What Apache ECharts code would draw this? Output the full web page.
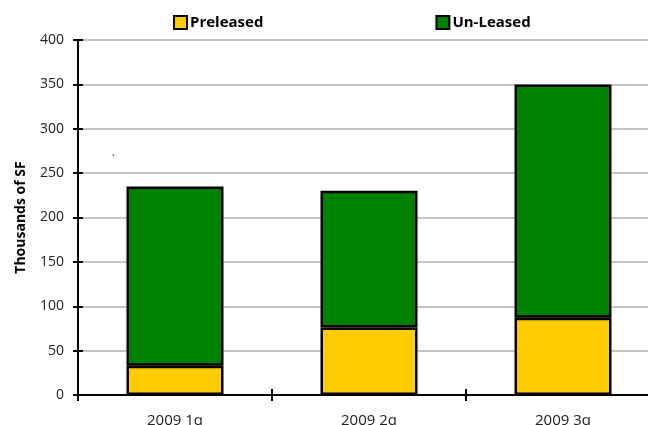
<!DOCTYPE html>
<html>
<head>
<meta charset="utf-8">
<script src="https://cdn.jsdelivr.net/npm/echarts@6/dist/echarts.min.js"></script>
<style>
  html, body { margin: 0; padding: 0; background: #fff; overflow: hidden; }
  #chart { width: 648px; height: 425px; }
</style>
</head>
<body>
<div id="chart"></div>
<script>
// Quarterly space, thousands of square feet
var quarters = ['2009 1q', '2009 2q', '2009 3q'];
var preleased = [33, 76, 87];
var unLeased = [202, 154, 263];
var yTicks = [0, 50, 100, 150, 200, 250, 300, 350, 400];

var FONT = '"Open Sans", "DejaVu Sans", sans-serif';
var chart = echarts.init(document.getElementById('chart'), null, { renderer: 'canvas' });

var yMax = yTicks[yTicks.length - 1];
var yStep = yTicks[1] - yTicks[0];

chart.setOption({
  animation: false,
  backgroundColor: '#ffffff',
  // plot area runs past the right edge of the canvas
  grid: { left: 78, width: 582, top: 40, bottom: 30, containLabel: false, outerBoundsMode: 'none' },
  legend: {
    left: 168,
    top: 10,
    itemGap: 172,
    itemWidth: 13,
    itemHeight: 13,
    icon: 'rect',
    itemStyle: { borderColor: '#000', borderWidth: 2 },
    textStyle: { fontFamily: FONT, fontWeight: 'bold', fontSize: 15, color: '#000', padding: [0, 0, 0, -2] },
    data: ['Preleased', 'Un-Leased']
  },
  xAxis: [{
    type: 'category',
    data: quarters,
    axisLine: { lineStyle: { color: '#000', width: 2 } },
    axisTick: { show: true, length: 6, lineStyle: { color: '#000', width: 2 } },
    axisLabel: { fontFamily: FONT, fontSize: 15, color: '#222', margin: 18 },
    splitLine: { show: false }
  }, {
    type: 'category',
    data: quarters,
    position: 'bottom',
    axisLine: { show: false },
    axisTick: { show: true, inside: true, length: 6, lineStyle: { color: '#000', width: 2 } },
    axisLabel: { show: false },
    splitLine: { show: false }
  }],
  yAxis: [{
    type: 'value',
    min: 0,
    max: yMax,
    interval: yStep,
    name: 'Thousands of SF',
    nameLocation: 'middle',
    nameGap: 50,
    nameTextStyle: { fontFamily: FONT, fontWeight: 'bold', fontSize: 14, color: '#000' },
    axisLine: { show: true, lineStyle: { color: '#000', width: 2 } },
    axisTick: { show: true, length: 5, lineStyle: { color: '#000', width: 2 } },
    axisLabel: { fontFamily: FONT, fontSize: 14, color: '#222', margin: 14 },
    splitLine: { show: true, lineStyle: { color: '#c4c4c4', width: 2 } }
  }, {
    type: 'value',
    min: 0,
    max: yMax,
    interval: yStep,
    position: 'left',
    axisLine: { show: false },
    axisTick: { show: true, inside: true, length: 5, lineStyle: { color: '#000', width: 2 } },
    axisLabel: { show: false },
    splitLine: { show: false }
  }],
  series: [{
    name: 'Preleased',
    type: 'bar',
    stack: 'space',
    barWidth: '50%',
    data: preleased,
    itemStyle: { color: '#FFCC00', borderColor: '#000', borderWidth: 2.5 }
  }, {
    name: 'Un-Leased',
    type: 'bar',
    stack: 'space',
    barWidth: '50%',
    data: unLeased,
    itemStyle: { color: '#008000', borderColor: '#000', borderWidth: 2.5 }
  }],
  graphic: [{
    type: 'text',
    left: 112,
    top: 155,
    style: { text: '`', fontFamily: FONT, fontSize: 10, fill: '#000' }
  }]
});
</script>
</body>
</html>
